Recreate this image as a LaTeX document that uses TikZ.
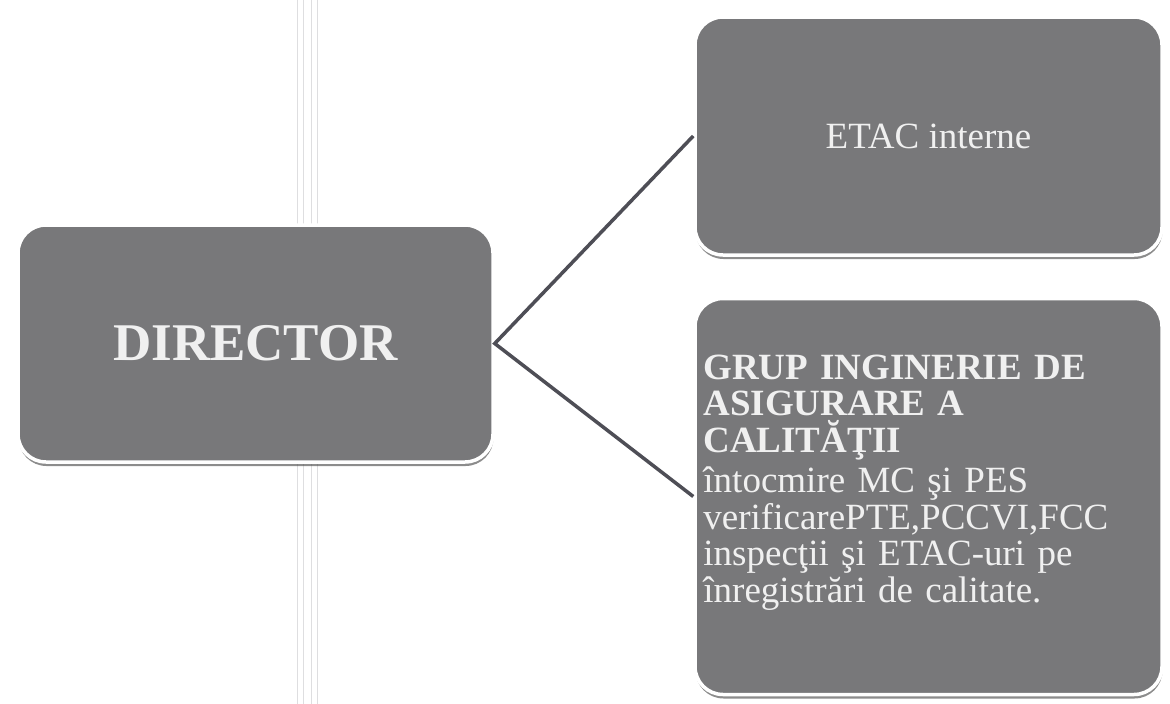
\documentclass[tikz,border=0pt]{standalone}
\usepackage{fontspec}
\setmainfont{Liberation Serif}
\usetikzlibrary{positioning,shadows}
\definecolor{boxgray}{RGB}{120,120,122}
\definecolor{linkgray}{RGB}{78,78,86}
\definecolor{railgray}{RGB}{222,222,224}
\tikzset
{
    orgbox/.style  = {rectangle, rounded corners=28pt, draw=white, line width=3.5pt, fill=boxgray, text=white!94!black, inner sep=0pt, drop shadow={shadow xshift=0.5pt, shadow yshift=-4pt, fill=black!75, opacity=0.6}},
    link/.style    = {draw=linkgray, line width=3.5pt},
    boxtext/.style = {align=left, text=white!94!black, inner sep=0pt, anchor=north west}
}

\begin{document}
\begin{tikzpicture}[x=1pt, y=-1pt]
    \useasboundingbox (0,0) rectangle (1170,704);
    % rails behind the director box
    \foreach \x in {297,303,311,317}
        \draw [railgray, line width=1pt] (\x,0) -- (\x,704);
    \node [orgbox, minimum width=475pt, minimum height=237pt, font=\fontsize{53}{53}\selectfont\bfseries] (director) at (255.5,343.5) {DIRECTOR};
    \node [orgbox, minimum width=467pt, minimum height=238pt, font=\fontsize{37}{37}\selectfont] (etac) at (928.5,136) {ETAC interne};
    \node [orgbox, minimum width=467pt, minimum height=396pt, below=40pt of etac] (grup) {};
    \node [boxtext, text width=455pt, font=\fontsize{37}{36.5}\selectfont] (grupText) at ([xshift=10pt, yshift=-58pt]grup.north west)
    {
        \textbf{GRUP INGINERIE DE\\ASIGURARE A\\CALITĂŢII}\\[4pt]
        întocmire MC şi PES\\
        verificarePTE,PCCVI,FCC\\
        inspecţii şi ETAC-uri pe\\
        înregistrări de calitate.
    };
    \draw [link] (etac.west) -- (director.east) -- (grup.west);
\end{tikzpicture}
\end{document}
